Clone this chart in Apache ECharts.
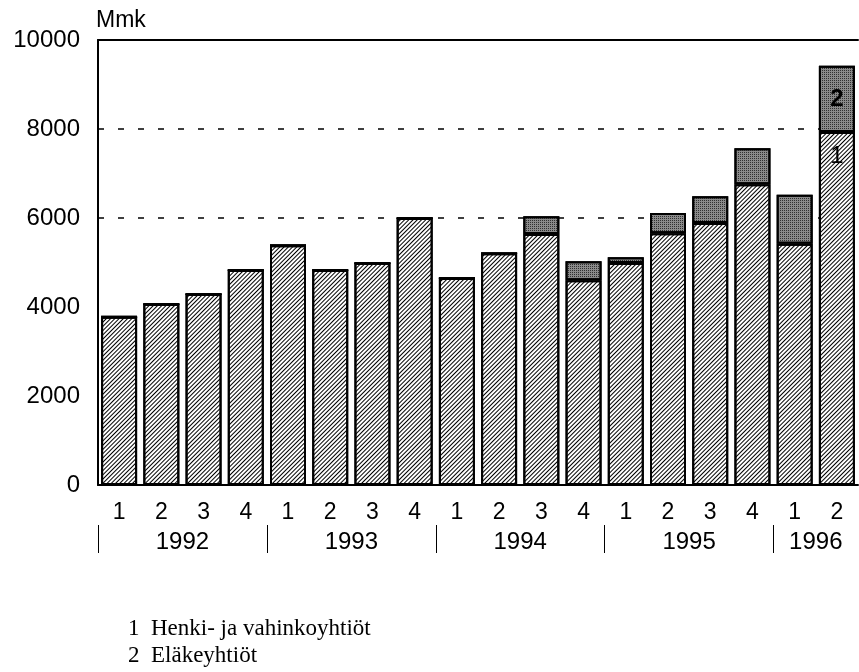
<!DOCTYPE html>
<html>
<head>
<meta charset="utf-8">
<script src="https://cdn.jsdelivr.net/npm/echarts@6/dist/echarts.min.js"></script>
<style>
html,body{margin:0;padding:0;background:#fff;}
#chart{width:859px;height:672px;}
</style>
</head>
<body>
<div id="chart"></div>
<script>
// ---- data ----
const quarters = ['1','2','3','4','1','2','3','4','1','2','3','4','1','2','3','4','1','2'];
const years = ['1992','1993','1994','1995','1996'];
const yearStarts = [0, 4, 8, 12, 16];
const yearCenters = [2, 6, 10, 14, 17];
const seriesNames = ['Henki- ja vahinkoyhtiöt', 'Eläkeyhtiöt'];
const henkiVahinko = [3780, 4070, 4290, 4830, 5390, 4830, 4990, 6000, 4650, 5210, 5640, 4600, 4990, 5660, 5890, 6760, 5420, 7930];
const elake        = [0, 0, 0, 0, 0, 0, 0, 0, 0, 0, 400, 430, 130, 450, 600, 810, 1100, 1490];
const yTicks = [0, 2000, 4000, 6000, 8000, 10000];

const chart = echarts.init(document.getElementById('chart'), null, {renderer: 'canvas'});
const sans = 'Liberation Sans, Arial, Helvetica, sans-serif';
const serif = 'Liberation Serif, Times New Roman, serif';
const last = quarters.length - 1;

function withLastLabel(arr, labelText, pos, dist, weight) {
  return arr.map((v, i) => i === last ? {
    value: v,
    label: {show: true, formatter: labelText, position: pos, distance: dist,
            fontFamily: sans, fontWeight: weight, fontSize: 24, color: '#000'}
  } : v);
}

const option = {
  backgroundColor: '#fff',
  animation: false,
  grid: {left: 98, right: 1, top: 40, bottom: 187, containLabel: false},
  legend: {
    orient: 'vertical', left: 118, top: 612,
    icon: 'none', itemWidth: 0, itemHeight: 10, itemGap: 4,
    data: seriesNames,
    formatter: name => (seriesNames.indexOf(name) + 1) + '  ' + name,
    textStyle: {fontFamily: serif, fontSize: 23, lineHeight: 23, color: '#000'},
    selectedMode: false
  },
  xAxis: [
    {
      type: 'category', position: 'bottom', data: quarters,
      axisLine: {show: true, lineStyle: {color: '#000', width: 2}},
      axisTick: {show: false},
      axisLabel: {interval: 0, margin: 16, fontFamily: sans, fontSize: 23, color: '#000'}
    },
    {
      type: 'value', position: 'bottom', offset: 40, min: 0, max: quarters.length,
      axisLine: {show: false},
      splitLine: {show: false},
      axisTick: {show: true, customValues: yearStarts, length: 28, lineStyle: {color: '#000', width: 1}},
      axisLabel: {customValues: yearCenters, margin: 5, fontFamily: sans, fontSize: 24, color: '#000',
                  formatter: v => years[yearCenters.indexOf(v)]}
    },
    {
      type: 'category', position: 'top', data: quarters,
      axisLine: {show: true, lineStyle: {color: '#000', width: 2}},
      axisTick: {show: false}, axisLabel: {show: false}
    }
  ],
  yAxis: {
    type: 'value', min: 0, max: 10000, interval: 2000,
    name: 'Mmk', nameLocation: 'end', nameGap: 8,
    nameTextStyle: {fontFamily: sans, fontSize: 23, color: '#000', align: 'left', padding: [0, 0, 0, -2]},
    axisLine: {show: true, lineStyle: {color: '#000', width: 2}},
    axisTick: {show: false},
    axisLabel: {margin: 18, fontFamily: sans, fontSize: 24, color: '#000',
                formatter: v => yTicks.indexOf(v) >= 0 ? String(v) : ''},
    splitLine: {show: true, lineStyle: {
      color: ['rgba(0,0,0,0)', 'rgba(0,0,0,0)', 'rgba(0,0,0,0)', '#000', '#000', 'rgba(0,0,0,0)'],
      width: 1.5, type: [6, 14]
    }}
  },
  series: [
    {
      name: seriesNames[0], type: 'bar', stack: 'total', xAxisIndex: 0,
      barWidth: 36,
      data: withLastLabel(henkiVahinko, '1', 'insideTop', 12, 'normal'),
      itemStyle: {
        color: '#fff', borderColor: '#000', borderWidth: 2,
        decal: {symbol: 'rect', symbolSize: 1, color: '#000',
                dashArrayX: [1, 0], dashArrayY: [1, 2], rotation: -Math.PI / 4}
      }
    },
    {
      name: seriesNames[1], type: 'bar', stack: 'total', xAxisIndex: 0,
      barWidth: 36,
      data: withLastLabel(elake, '2', 'inside', 0, 'bold'),
      itemStyle: {
        color: '#8a8a8a', borderColor: '#000', borderWidth: 2,
        decal: {symbol: 'rect', symbolSize: 1, color: '#303030',
                dashArrayX: [1, 1], dashArrayY: [1, 1], rotation: 0}
      }
    }
  ]
};
chart.setOption(option);
</script>
</body>
</html>
